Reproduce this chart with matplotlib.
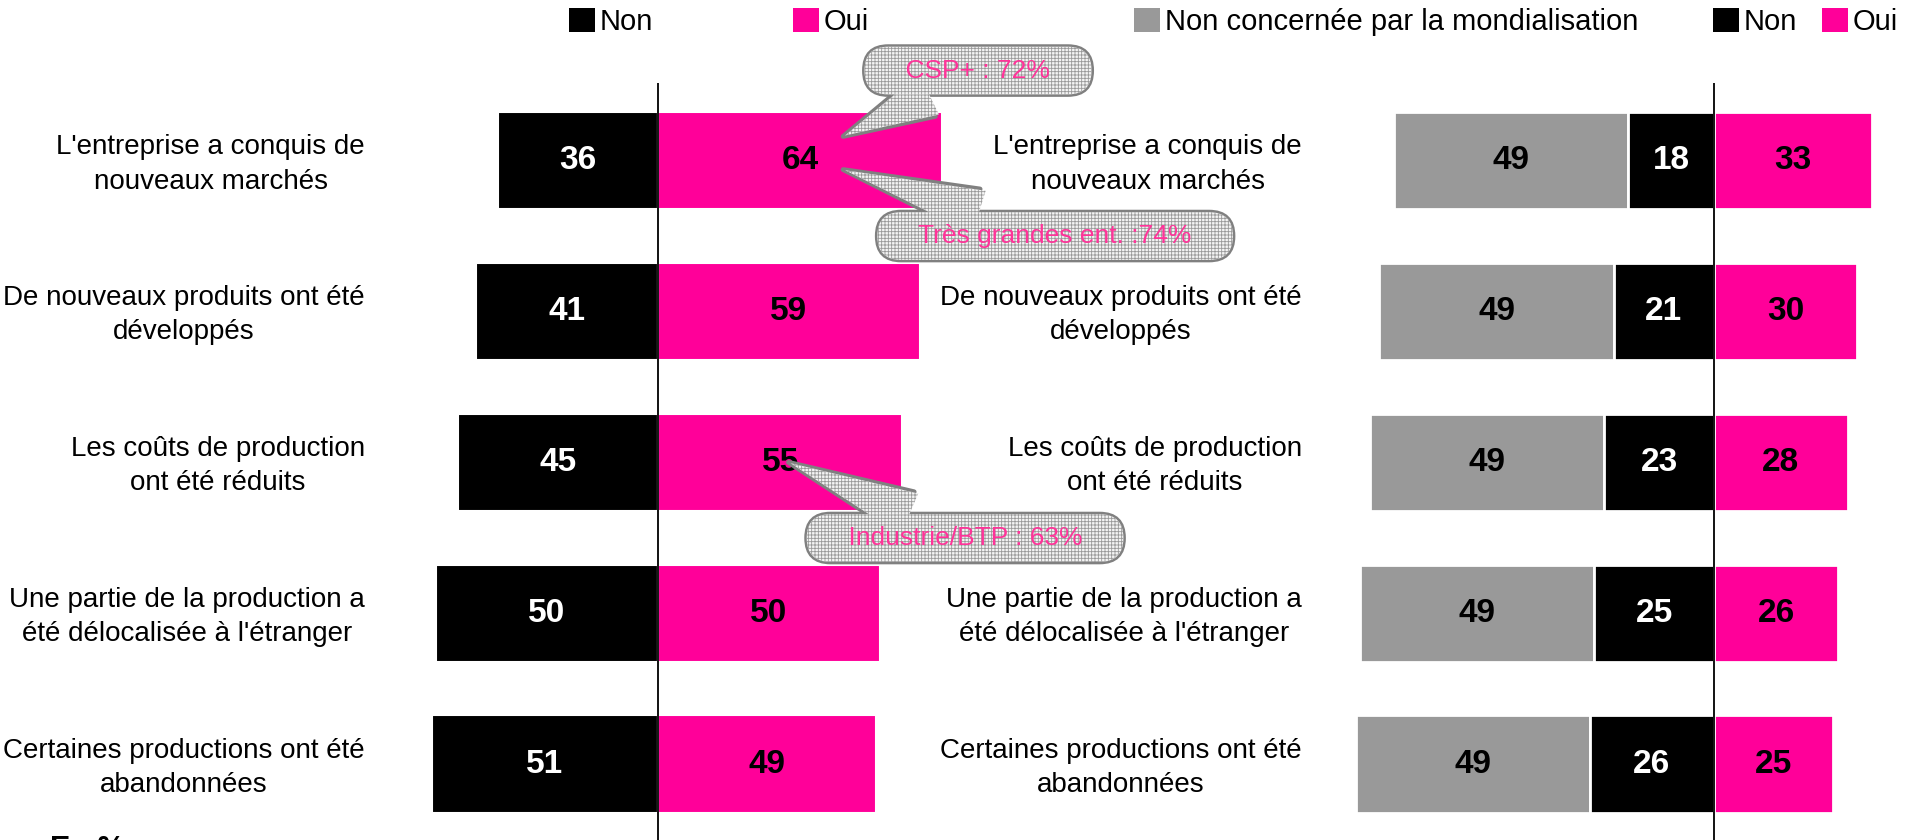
"""
Effets de la mondialisation sur l'entreprise : Non / Oui, en %.
Left: all respondents. Right: including those not concerned.
"""

import matplotlib
matplotlib.use("Agg")
import matplotlib.pyplot as plt
from matplotlib import font_manager
from matplotlib import transforms
from matplotlib.patches import Patch


# ---------------------------------------------------------------------
# Data
# ---------------------------------------------------------------------

CATEGORIES = [
    "L'entreprise a conquis de\nnouveaux marchés",
    "De nouveaux produits ont été\ndéveloppés",
    "Les coûts de production\nont été réduits",
    "Une partie de la production a\nété délocalisée à l'étranger",
    "Certaines productions ont été\nabandonnées",
]

NON_ALL = [36, 41, 45, 50, 51]
OUI_ALL = [64, 59, 55, 50, 49]

NON_CONCERNEE = [49, 49, 49, 49, 49]
NON_MONDIAL = [18, 21, 23, 25, 26]
OUI_MONDIAL = [33, 30, 28, 26, 25]

# (row, x value pointed at, y offset within row, text, text position in figure fraction)
CALLOUTS = [
    (0, 41.7, -0.16, "CSP+ : 72%", (0.5126, 0.916)),
    (0, 41.7, 0.06, "Très grandes ent. :74%", (0.553, 0.719)),
    (2, 29.4, 0.0, "Industrie/BTP : 63%", (0.5058, 0.3595)),
]

# ---------------------------------------------------------------------
# Style
# ---------------------------------------------------------------------

PINK = "#FF0099"
BLACK = "#000000"
GREY = "#999999"
CALLOUT_PINK = "#FF3399"

W, H = 1908, 840
DPI = 100

installed = {f.name for f in font_manager.fontManager.ttflist}
plt.rcParams["font.family"] = ["Liberation Sans", "DejaVu Sans"]
plt.rcParams["hatch.linewidth"] = 0.6
if "Liberation Sans Narrow" in installed:
    LEGEND_FONT = dict(family=["Liberation Sans Narrow"], size=25)
else:
    LEGEND_FONT = dict(family=["Liberation Sans"], size=21)

LABEL_SIZE = 20
CALLOUT_SIZE = 19
VALUE_SIZE = 24
BAR_H = 0.645
YLIM = (4.503, -0.514)
AX_TOP = 1 - 83 / H


def style_axis(ax, xlim):
    ax.set_xlim(*xlim)
    ax.set_ylim(*YLIM)
    ax.axis("off")
    ax.axvline(0, color="black", lw=1.3, zorder=3)


def add_category_labels(fig, ax, x_px):
    trans = transforms.blended_transform_factory(fig.transFigure, ax.transData)
    for i, cat in enumerate(CATEGORIES):
        ax.text(x_px / W, i + 0.025, cat, transform=trans, ha="right", va="center",
                multialignment="center", fontsize=LABEL_SIZE, linespacing=1.42)


def add_legend_entry(fig, x_px, color, label):
    handle = Patch(facecolor=color, edgecolor="none")
    fig.legend(handles=[handle], labels=[label], loc="center left",
               bbox_to_anchor=(x_px / W, 1 - 22 / H), frameon=False,
               prop=LEGEND_FONT, handlelength=0.9, handleheight=0.9,
               handletextpad=0.15, borderpad=0, borderaxespad=0)


def add_callout(ax, row, xval, dy, text, pos):
    common = dict(xy=(xval, row + dy), xycoords="data", xytext=pos,
                  textcoords="figure fraction", ha="center", va="center",
                  fontsize=CALLOUT_SIZE, color=CALLOUT_PINK,
                  annotation_clip=False, zorder=10)
    label = "    " + text + "    "
    box = "round,pad=0.45,rounding_size=0.9"
    # outline pass
    ax.annotate(label,
                bbox=dict(boxstyle=box, fc="white", ec="#808080", lw=3.5),
                arrowprops=dict(arrowstyle="wedge,tail_width=1.7", fc="white",
                                ec="#808080", lw=3.5, shrinkA=0, shrinkB=0),
                **common)
    # fill pass: fine grey grid, covers the seam between box and pointer
    ax.annotate(label,
                bbox=dict(boxstyle=box, fc="#F4F4F4", ec="#999999", lw=0,
                          hatch="+++++"),
                arrowprops=dict(arrowstyle="wedge,tail_width=1.7", fc="#F4F4F4",
                                ec="#999999", lw=0, hatch="+++++",
                                shrinkA=0, shrinkB=1.5),
                **common)


# ---------------------------------------------------------------------
# Figure
# ---------------------------------------------------------------------

fig = plt.figure(figsize=(W / DPI, H / DPI), dpi=DPI)

ypos = list(range(len(CATEGORIES)))

# Left chart: Non / Oui
ax_l = fig.add_axes([409.36 / W, 0, 550.56 / W, AX_TOP])
style_axis(ax_l, (-56, 68))
bars_non = ax_l.barh(ypos, [-v for v in NON_ALL], height=BAR_H, color=BLACK,
                     edgecolor="white", lw=1.5)
bars_oui = ax_l.barh(ypos, OUI_ALL, height=BAR_H, color=PINK,
                     edgecolor="white", lw=1.5)
ax_l.bar_label(bars_non, labels=[str(v) for v in NON_ALL], label_type="center",
               color="white", fontsize=VALUE_SIZE, fontweight="bold")
ax_l.bar_label(bars_oui, labels=[str(v) for v in OUI_ALL], label_type="center",
               color="black", fontsize=VALUE_SIZE, fontweight="bold")
add_category_labels(fig, ax_l, 365)

# Right chart: non concernée / Non / Oui
ax_r = fig.add_axes([1345.94 / W, 0, 559.26 / W, AX_TOP])
style_axis(ax_r, (-77, 40))
bars_nc = ax_r.barh(ypos, [-v for v in NON_CONCERNEE], left=[-v for v in NON_MONDIAL],
                    height=BAR_H, color=GREY, edgecolor="white", lw=2)
bars_nm = ax_r.barh(ypos, [-v for v in NON_MONDIAL], height=BAR_H, color=BLACK,
                    edgecolor="white", lw=2)
bars_om = ax_r.barh(ypos, OUI_MONDIAL, height=BAR_H, color=PINK,
                    edgecolor="white", lw=2)
ax_r.bar_label(bars_nc, labels=[str(v) for v in NON_CONCERNEE], label_type="center",
               color="black", fontsize=VALUE_SIZE, fontweight="bold")
ax_r.bar_label(bars_nm, labels=[str(v) for v in NON_MONDIAL], label_type="center",
               color="white", fontsize=VALUE_SIZE, fontweight="bold")
ax_r.bar_label(bars_om, labels=[str(v) for v in OUI_MONDIAL], label_type="center",
               color="black", fontsize=VALUE_SIZE, fontweight="bold")
add_category_labels(fig, ax_r, 1302)

# Callouts sit on top of both charts
ax_l.set_zorder(2)
for row, xval, dy, text, pos in CALLOUTS:
    add_callout(ax_l, row, xval, dy, text, pos)

# Legends
add_legend_entry(fig, 569, BLACK, "Non")
add_legend_entry(fig, 793, PINK, "Oui")
add_legend_entry(fig, 1134, GREY, "Non concernée par la mondialisation")
add_legend_entry(fig, 1713, BLACK, "Non")
add_legend_entry(fig, 1822, PINK, "Oui")

fig.text(50 / W, 5 / H, "En %", ha="left", va="top", fontsize=22, fontweight="bold")

fig.savefig("out.png", dpi=DPI)
